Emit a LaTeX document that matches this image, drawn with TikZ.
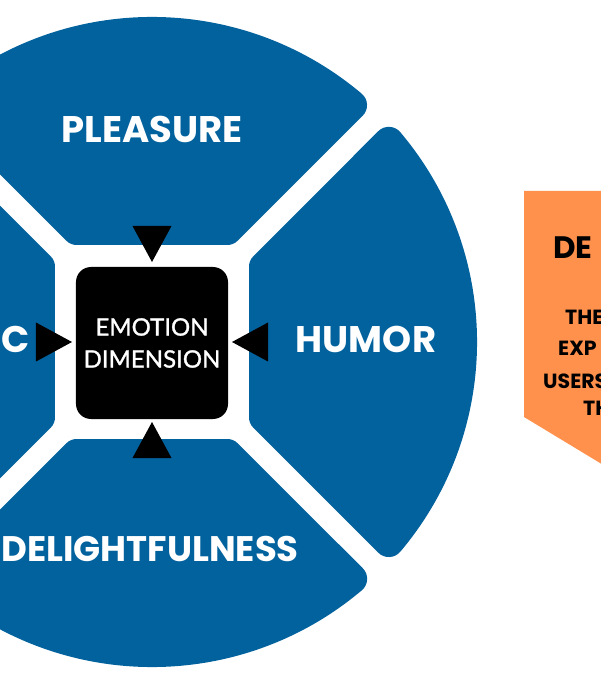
\documentclass[tikz,border=0pt]{standalone}
\usepackage{fontspec}
\setmainfont{Poppins}
\newfontfamily\emofont{Lato}[FakeBold=1.2]
\usepackage{xcolor}
\usetikzlibrary{positioning}

\definecolor{wheelblue}{HTML}{02629E}
\definecolor{bannerorange}{HTML}{FF914D}

\begin{document}
\begin{tikzpicture}[
  x=1pt, y=1pt,
  seg/.style={fill=wheelblue, draw=wheelblue, line width=30pt, line join=round},
  pointer/.style={fill=black},
  lab/.style={text=white, font=\bfseries\fontsize{37}{40}\selectfont, inner sep=0pt},
  ban/.style={text=black, inner sep=0pt, anchor=base west,
    font=\bfseries\fontsize{20.5}{24}\selectfont},
]

\useasboundingbox (-152,-338) rectangle (448,342);

% one quarter of the wheel, turned by #1 degrees
\newcommand{\quadseg}[1]{%
  \path[seg, rotate=#1] (-75.2,112) -- (75.2,112) -- (200.03,236.83)
    arc[start angle=49.8, end angle=130.2, radius=310] -- cycle;
}

\quadseg{0}
\quadseg{90}
\quadseg{180}
\quadseg{270}

% centre box
\node[fill=black, rounded corners=15pt, minimum size=152pt, inner sep=0pt,
  text=white, align=center, font=\emofont\fontsize{24}{32}\selectfont]
  (core) at (0,-1) {EMOTION\\DIMENSION};

% four pointers into the box
\foreach \a in {0,90,180,270}
  \fill[pointer, rotate=\a] (-19.5,116) -- (19.5,116) -- (0,80) -- cycle;

% quarter labels
\node[lab, anchor=base] (pleasure) at (0,199) {PLEASURE};
\node[lab, anchor=base] (humor) at (214,-11) {HUMOR};
\node[lab, anchor=base, font=\bfseries\fontsize{35.5}{40}\selectfont]
  (delight) at (-2,-219) {DELIGHTFULNESS};
\node[lab, anchor=base east] (leftlab) at (-122,-11) {C};

% --- banner on the right ---
\fill[bannerorange] (372,151) -- (452,151) -- (452,-123.4) -- (372,-75) -- cycle;
\node[ban, font=\bfseries\fontsize{31}{34}\selectfont] (deftitle) at (401,83) {DE};
\node[ban] (lineone) at (413,17) {THE};
\node[ban] (linetwo) at (406,-14) {EXP};
\node[ban] (linethree) at (391,-46) {USERS};
\node[ban] (linefour) at (431,-73) {TH};

\end{tikzpicture}
\end{document}
